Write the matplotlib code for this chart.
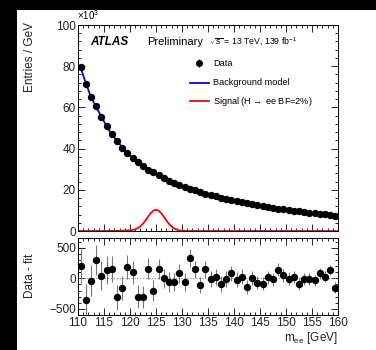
import numpy as np
import matplotlib
matplotlib.use('Agg')
import matplotlib.pyplot as plt
from matplotlib.ticker import MultipleLocator

plt.rcParams['font.family'] = ['Liberation Sans', 'DejaVu Sans']
plt.rcParams['mathtext.fontset'] = 'custom'
plt.rcParams['mathtext.rm'] = 'Liberation Sans'
plt.rcParams['mathtext.it'] = 'Liberation Sans:italic'

# bin centres (1 GeV bins, 110-160 GeV)
mass = np.arange(110.5, 160, 1.0)

# data, entries / GeV in units of 10^3
data = [79.5, 71.5, 65.0, 60.5, 55.5, 51.0, 47.0, 43.5, 40.5, 38.0,
        35.5, 33.5, 31.5, 29.8, 28.5, 27.0, 25.8, 24.5, 23.5, 22.5,
        21.5, 20.6, 19.8, 19.0, 18.2, 17.5, 16.8, 16.2, 15.6, 15.0,
        14.4, 13.9, 13.4, 12.9, 12.5, 12.0, 11.6, 11.2, 10.8, 10.5,
        10.1, 9.8, 9.5, 9.2, 8.9, 8.6, 8.3, 8.1, 7.8, 7.5]

# data - fit (entries)
resid = [200, -360, -40, 300, 40, 140, 150, -310, -160, 180,
         100, -300, -310, 160, -200, 155, 0, -60, -60, 80,
         -65, 330, 145, -110, 145, -15, 15, -95, -10, 85,
         -20, 30, -140, 10, -70, -85, 15, -15, 140, 50,
         -5, 20, -95, -10, -15, -35, 85, 25, 135, -150]

# signal shape (H -> ee, BF = 2%), units of 10^3
sig_mass = [110.0, 115.0, 115.5, 116.0, 116.5, 117.0, 117.5, 118.0, 118.5, 119.0,
            119.5, 120.0, 120.5, 121.0, 121.5, 122.0, 122.5, 123.0, 123.5, 124.0,
            124.5, 125.0, 125.5, 126.0, 126.5, 127.0, 127.5, 128.0, 128.5, 129.0,
            129.5, 130.0, 130.5, 131.0, 131.5, 160.0]
signal = [0.0, 0.01, 0.015, 0.02, 0.03, 0.05, 0.07, 0.1, 0.15, 0.2,
          0.28, 0.35, 0.5, 0.8, 1.4, 2.3, 3.55, 5.2, 7.0, 8.7,
          9.9, 10.3, 9.86, 8.66, 6.98, 5.16, 3.49, 2.17, 1.24, 0.65,
          0.31, 0.14, 0.06, 0.02, 0.0, 0.0]

data = np.array(data)
resid = np.array(resid)
bkg = data - resid / 1000.0
err = np.sqrt(data * 1000.0)

fig = plt.figure(figsize=(3.76, 3.5), dpi=100)
fig.patch.set_facecolor('black')
fig.patches.append(plt.Rectangle((17 / 376, 0), 1, 1 - 10 / 350, transform=fig.transFigure,
                                 facecolor='white', edgecolor='none', zorder=-10))

W, H = 376.0, 350.0
ax1 = fig.add_axes([78 / W, 1 - 231 / H, 260 / W, 206 / H])
ax2 = fig.add_axes([78 / W, 1 - 315 / H, 260 / W, 77 / H], sharex=ax1)

# top panel
ax1.plot(mass, bkg, color='#0000ff', lw=1.3, zorder=2)
ax1.plot(sig_mass, signal, color='#ff0000', lw=1.3, zorder=2)
ax1.errorbar(mass, data, yerr=err / 1000.0, fmt='o', color='black', ms=4.3, lw=0.8, zorder=3)
ax1.set_xlim(110, 160)
ax1.set_ylim(0, 100)
ax1.yaxis.set_major_locator(MultipleLocator(20))
ax1.yaxis.set_minor_locator(MultipleLocator(4))
ax1.xaxis.set_major_locator(MultipleLocator(5))
ax1.xaxis.set_minor_locator(MultipleLocator(1))
ax1.tick_params(labelbottom=False)

# bottom panel
ax2.axhline(0, color='grey', lw=0.8, ls=':')
ax2.errorbar(mass, resid, yerr=err, fmt='o', color='black', ecolor='#777777', ms=4.3, lw=0.8)
ax2.set_ylim(-600, 660)
ax2.yaxis.set_major_locator(MultipleLocator(500))
ax2.yaxis.set_minor_locator(MultipleLocator(100))

for ax in (ax1, ax2):
    ax.tick_params(which='both', direction='in', top=True, right=True, labelsize=8.5, pad=1.5,
                   labelcolor='#222222')
    ax.tick_params(which='major', length=5, width=0.6)
    ax.tick_params(which='minor', length=2.5, width=0.6)
    for s in ax.spines.values():
        s.set_linewidth(0.7)

ax2.set_xticks(np.arange(110, 161, 5))
ax2.set_xticklabels([str(v) for v in range(110, 161, 5)])

fig.text(30 / W, 1 - 22 / H, 'Entries / GeV', rotation=90, ha='center', va='top', fontsize=8.5,
         color='#222222')
fig.text(30 / W, 1 - 276 / H, 'Data - fit', rotation=90, ha='center', va='center', fontsize=8.5,
         color='#222222')
fig.text(338 / W, 1 - 338 / H, r'm$_{\mathrm{ee}}$ [GeV]', ha='right', va='center', fontsize=8.5,
         color='#222222')
fig.text(77 / W, 1 - 20 / H, r'$\times10^{3}$', ha='left', va='baseline', fontsize=7)

# labels inside top panel
fig.text(90 / W, 1 - 42 / H, 'ATLAS', fontsize=8.5, weight='bold', style='italic', va='center')
fig.text(147 / W, 1 - 42 / H, 'Preliminary', fontsize=8, va='center')
fig.text(209 / W, 1 - 42 / H, r'$\sqrt{s}$ = 13 TeV, 139 fb$^{-1}$', fontsize=6.3, va='center')

ax1.errorbar([0.465], [0.815], yerr=[0.02], fmt='o', color='black', ms=4, lw=0.8,
             transform=ax1.transAxes, clip_on=False)
ax1.plot([0.43, 0.505], [0.72, 0.72], color='#0000ff', lw=1.3, transform=ax1.transAxes)
ax1.plot([0.43, 0.505], [0.63, 0.63], color='#ff0000', lw=1.3, transform=ax1.transAxes)
ax1.text(0.52, 0.815, 'Data', transform=ax1.transAxes, fontsize=6.6, va='center')
ax1.text(0.52, 0.72, 'Background model', transform=ax1.transAxes, fontsize=6.6, va='center')
ax1.text(0.52, 0.63, r'Signal (H$\rightarrow$ ee BF=2%)', transform=ax1.transAxes, fontsize=6.6, va='center')

fig.savefig('out.png', dpi=100, facecolor=fig.get_facecolor())
